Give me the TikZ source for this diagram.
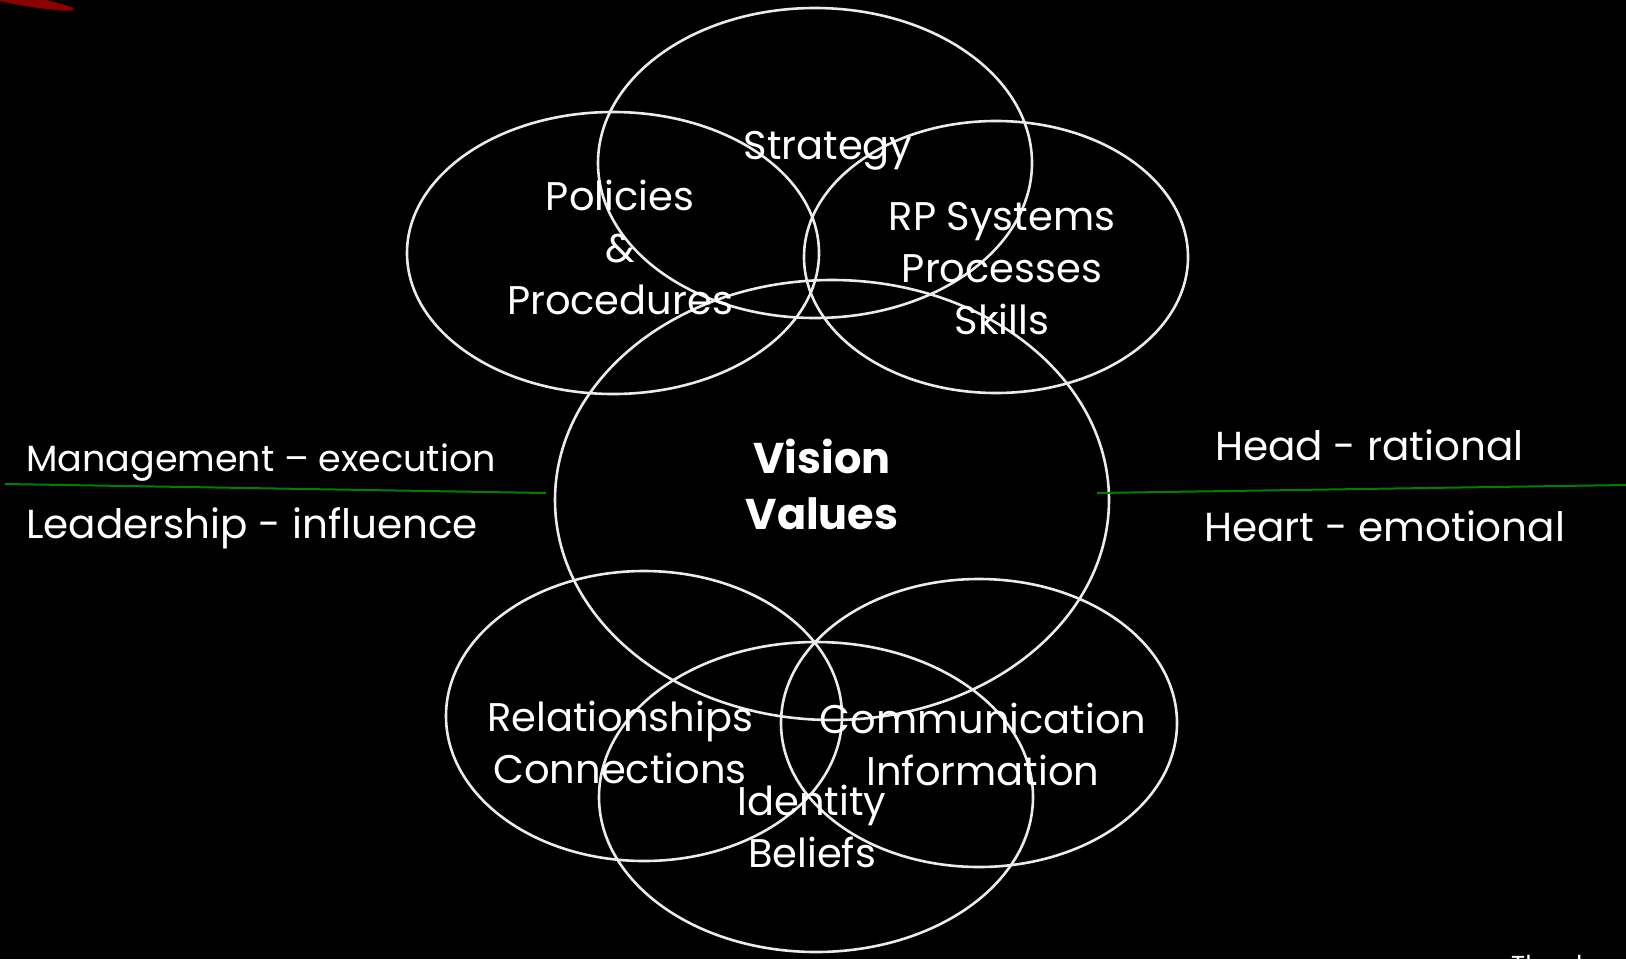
\documentclass[tikz,border=0pt]{standalone}
\usepackage{fontspec}
\setmainfont{Poppins}
\begin{document}
\begin{tikzpicture}[x=1pt,y=-1pt,
  ring/.style={draw=white!92!black,line width=2.6pt},
  sep/.style={draw=green!50!black,line width=2pt},
  lbl/.style={text=white,font=\fontsize{40}{52}\selectfont,align=center,inner sep=0pt},
  side/.style={text=white,inner sep=0pt,anchor=west}]
\fill[black] (0,0) rectangle (1626,959);
\useasboundingbox (0,0) rectangle (1626,959);
\fill[red!55!black,rotate around={-10:(20,0)}] (20,0) ellipse (55pt and 5pt);
% ellipses
\draw[ring] (815,163) ellipse (217pt and 155pt);
\draw[ring] (613,253) ellipse (206pt and 141pt);
\draw[ring] (996,257) ellipse (192pt and 136pt);
\draw[ring] (832,500) ellipse (277pt and 220pt);
\draw[ring] (644,716) ellipse (198pt and 145pt);
\draw[ring] (979,723) ellipse (198pt and 144pt);
\draw[ring] (816,797) ellipse (217pt and 155pt);
% separators
\coordinate (l1) at (5,484); \coordinate (l2) at (546,493);
\coordinate (r1) at (1097,493); \coordinate (r2) at (1626,485);
\draw[sep] (l1) -- (l2);
\draw[sep] (r1) -- (r2);
% labels
\node[lbl] (strategy) at (828,151) {Strategy};
\node[lbl] (policies) at (620,247) {Policies\\\&\\Procedures};
\node[lbl] (rp) at (1002,269) {RP Systems\\Processes\\Skills};
\node[lbl,font=\fontsize{43}{56}\selectfont\bfseries] (vision) at (822,484) {Vision\\Values};
\node[lbl] (rel) at (620,742) {Relationships\\Connections};
\node[lbl] (comm) at (983,744) {Communication\\Information};
\node[lbl] (id) at (812,826) {Identity\\Beliefs};
\node[side,font=\fontsize{36.5}{44}\selectfont] (mgmt) at (26,463) {Management – execution};
\node[side,font=\fontsize{40.5}{48}\selectfont] (lead) at (26,528) {Leadership - influence};
\node[side,font=\fontsize{40.5}{48}\selectfont] (head) at (1215,445) {Head - rational};
\node[side,font=\fontsize{40.5}{48}\selectfont] (heart) at (1204,526) {Heart - emotional};
\begin{scope}
\clip (0,0) rectangle (1626,959);
\node[side,font=\fontsize{26}{30}\selectfont,anchor=north west] (thanks) at (1511,955) {Thank you};
\end{scope}
\end{tikzpicture}
\end{document}
